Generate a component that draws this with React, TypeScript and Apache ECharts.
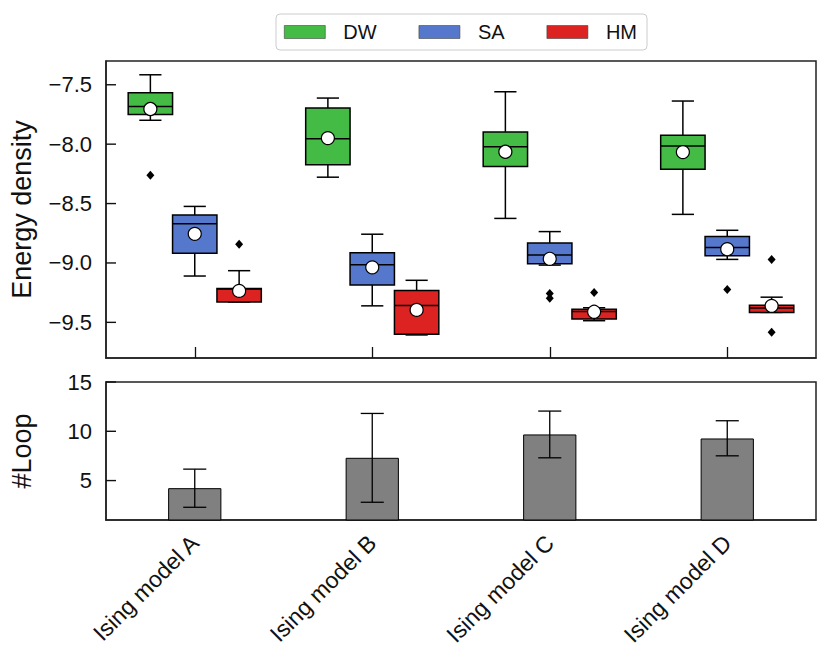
import React, { useEffect, useRef } from "react";
import * as echarts from "echarts";

const categories = ["Ising model A", "Ising model B", "Ising model C", "Ising model D"];
const groupNames = ["DW", "SA", "HM"];
const groupColors = ["#44BB44", "#5577CC", "#DD2222"];
const groupOffsets = [-0.25, 0, 0.25];

// [min, Q1, median, Q3, max] per category
const dwBox = [
  [-7.799, -7.751, -7.684, -7.567, -7.416],
  [-8.278, -8.173, -7.955, -7.696, -7.612],
  [-8.625, -8.189, -8.022, -7.897, -7.559],
  [-8.591, -8.211, -8.016, -7.924, -7.637],
];
const saBox = [
  [-9.11, -8.918, -8.669, -8.596, -8.524],
  [-9.361, -9.185, -9.015, -8.914, -8.758],
  [-9.018, -9.006, -8.934, -8.831, -8.736],
  [-8.97, -8.94, -8.87, -8.778, -8.725],
];
const hmBox = [
  [-9.328, -9.328, -9.22, -9.216, -9.065],
  [-9.606, -9.6, -9.358, -9.232, -9.146],
  [-9.486, -9.472, -9.408, -9.389, -9.377],
  [-9.416, -9.416, -9.38, -9.355, -9.288],
];

const dwMean = [-7.704, -7.949, -8.064, -8.067];
const saMean = [-8.755, -9.037, -8.965, -8.884];
const hmMean = [-9.235, -9.395, -9.411, -9.361];

// [category index, value]
const dwOutliers = [[0, -8.262]];
const saOutliers = [[2, -9.257], [2, -9.297], [3, -9.224]];
const hmOutliers = [[0, -8.842], [2, -9.249], [3, -8.97], [3, -9.584]];

const loopMean = [4.23, 7.31, 9.68, 9.27];
const loopLow = [2.29, 2.8, 7.31, 7.51];
const loopHigh = [6.16, 11.81, 12.05, 11.07];

const energyTicks = [-9.5, -9.0, -8.5, -8.0, -7.5];
const loopTicks = [5, 10, 15];

const FONT = "'Liberation Sans', Arial, Helvetica, sans-serif";

const boxSets = [dwBox, saBox, hmBox];
const meanSets = [dwMean, saMean, hmMean];
const outlierSets = [dwOutliers, saOutliers, hmOutliers];

function boxRenderer(offset: number, color: string) {
  return (params: any, api: any) => {
    const cx = api.value(0) + offset;
    const w = api.size([0.25, 0])[0];
    const cap = w / 4;
    const pMin = api.coord([cx, api.value(1)]);
    const pQ1 = api.coord([cx, api.value(2)]);
    const pMed = api.coord([cx, api.value(3)]);
    const pQ3 = api.coord([cx, api.value(4)]);
    const pMax = api.coord([cx, api.value(5)]);
    const x = pMin[0];
    const ls = { stroke: "#000", lineWidth: 1.5 };
    return {
      type: "group",
      children: [
        { type: "line", shape: { x1: x, y1: pQ3[1], x2: x, y2: pMax[1] }, style: ls },
        { type: "line", shape: { x1: x - cap, y1: pMax[1], x2: x + cap, y2: pMax[1] }, style: ls },
        { type: "line", shape: { x1: x, y1: pQ1[1], x2: x, y2: pMin[1] }, style: ls },
        { type: "line", shape: { x1: x - cap, y1: pMin[1], x2: x + cap, y2: pMin[1] }, style: ls },
        {
          type: "rect",
          shape: { x: x - w / 2, y: pQ3[1], width: w, height: pQ1[1] - pQ3[1] },
          style: { fill: color, stroke: "#000", lineWidth: 1.5 },
        },
        { type: "line", shape: { x1: x - w / 2, y1: pMed[1], x2: x + w / 2, y2: pMed[1] }, style: ls },
      ],
    };
  };
}

function errorRenderer(params: any, api: any) {
  const idx = api.value(0);
  const lo = api.coord([idx, api.value(1)]);
  const hi = api.coord([idx, api.value(2)]);
  const cap = api.size([1, 0])[0] * 0.065;
  const x = lo[0];
  const ls = { stroke: "#000", lineWidth: 1.3 };
  return {
    type: "group",
    children: [
      { type: "line", shape: { x1: x, y1: lo[1], x2: x, y2: hi[1] }, style: ls },
      { type: "line", shape: { x1: x - cap, y1: lo[1], x2: x + cap, y2: lo[1] }, style: ls },
      { type: "line", shape: { x1: x - cap, y1: hi[1], x2: x + cap, y2: hi[1] }, style: ls },
    ],
  };
}

// inward tick marks on the left edge of a grid, drawn as thin filled rects
function yTickRenderer(params: any, api: any) {
  const left = params.coordSys.x;
  const p = api.coord([api.value(0), api.value(1)]);
  return {
    type: "rect",
    shape: { x: left, y: p[1] - 0.7, width: 10, height: 1.4 },
    style: { fill: "#111" },
    z2: 100,
  };
}

const fmtEnergy = (v: number) => v.toFixed(1).replace("-", "\u2212");

export default function App() {
  const ref = useRef<HTMLDivElement>(null);
  useEffect(() => {
    if (!ref.current) return;
    const chart = echarts.init(ref.current, undefined, { renderer: "svg" });

    const series: any[] = [];
    groupNames.forEach((name, g) => {
      series.push({
        name,
        type: "custom",
        xAxisIndex: 1,
        yAxisIndex: 0,
        itemStyle: { color: groupColors[g] },
        renderItem: boxRenderer(groupOffsets[g], groupColors[g]),
        encode: { x: 0, y: [1, 2, 3, 4, 5] },
        data: boxSets[g].map((b, i) => [i, ...b]),
        z: 2,
      });
      series.push({
        name: name + " mean",
        type: "scatter",
        xAxisIndex: 1,
        yAxisIndex: 0,
        symbol: "circle",
        symbolSize: 13,
        itemStyle: { color: "#fff", borderColor: "#000", borderWidth: 1.2, opacity: 1 },
        data: meanSets[g].map((m, i) => [i + groupOffsets[g], m]),
        z: 4,
      });
      series.push({
        name: name + " outliers",
        type: "scatter",
        xAxisIndex: 1,
        yAxisIndex: 0,
        symbol: "diamond",
        symbolSize: [8, 9],
        itemStyle: { color: "#000", opacity: 1 },
        data: outlierSets[g].map((o) => [o[0] + groupOffsets[g], o[1]]),
        z: 4,
      });
    });

    series.push({
      name: "energy ticks",
      type: "custom",
      xAxisIndex: 1,
      yAxisIndex: 0,
      coordinateSystem: "cartesian2d",
      renderItem: yTickRenderer,
      encode: { x: 0, y: 1 },
      data: energyTicks.map((t) => [1.5, t]),
      clip: false,
      z: 10,
    });

    series.push({
      name: "#Loop",
      type: "bar",
      xAxisIndex: 2,
      yAxisIndex: 1,
      barWidth: "30%",
      clip: true,
      itemStyle: { color: "#808080", borderColor: "#000", borderWidth: 1 },
      data: loopMean,
      z: 2,
    });
    series.push({
      name: "#Loop err",
      type: "custom",
      xAxisIndex: 2,
      yAxisIndex: 1,
      renderItem: errorRenderer,
      encode: { x: 0, y: [1, 2] },
      data: loopLow.map((lo, i) => [i, lo, loopHigh[i]]),
      z: 3,
    });
    series.push({
      name: "loop ticks",
      type: "custom",
      xAxisIndex: 2,
      yAxisIndex: 1,
      coordinateSystem: "cartesian2d",
      renderItem: yTickRenderer,
      encode: { x: 0, y: 1 },
      data: loopTicks.map((t) => [1, t]),
      clip: false,
      z: 10,
    });

    const tickLabel = { color: "#111", fontSize: 22, fontFamily: FONT };
    const axLine = { show: true, onZero: false, lineStyle: { color: "#222", width: 1.5 } };
    const option: any = {
      animation: false,
      backgroundColor: "#fff",
      textStyle: { fontFamily: FONT },
      legend: {
        data: groupNames.map((n, g) => ({
          name: n,
          icon: "rect",
          itemStyle: { color: groupColors[g], borderColor: "#444", borderWidth: 0.6 },
        })),
        selectedMode: false,
        left: 276,
        top: 14,
        itemWidth: 41,
        itemHeight: 13,
        itemGap: 42,
        padding: [8, 10, 8, 8],
        borderColor: "#cccccc",
        borderWidth: 1,
        borderRadius: 4,
        textStyle: { fontSize: 20, color: "#111", fontFamily: FONT, padding: [0, 0, 0, 13] },
      },
      grid: [
        { left: 105, top: 61, width: 711, height: 297, show: true, borderColor: "#222", borderWidth: 1.5 },
        { left: 105, top: 382, width: 711, height: 138, show: true, borderColor: "#222", borderWidth: 1.5 },
      ],
      xAxis: [
        {
          type: "category",
          gridIndex: 0,
          data: categories,
          boundaryGap: true,
          axisLine: axLine,
          axisTick: { show: true, inside: true, alignWithLabel: true, length: 11, lineStyle: { color: "#111", width: 1.3 } },
          axisLabel: { show: false },
          splitLine: { show: false },
        },
        {
          type: "value",
          gridIndex: 0,
          min: -0.5,
          max: 3.5,
          show: false,
          axisLine: { show: false, onZero: false },
          splitLine: { show: false },
        },
        {
          type: "category",
          gridIndex: 1,
          data: categories,
          boundaryGap: true,
          axisLine: axLine,
          axisTick: { show: false },
          axisLabel: { ...tickLabel, fontSize: 23, rotate: 45, margin: 19, interval: 0 },
          splitLine: { show: false },
        },
      ],
      yAxis: [
        {
          type: "value",
          gridIndex: 0,
          min: -9.8,
          max: -7.3,
          name: "Energy density",
          nameLocation: "middle",
          nameGap: 71,
          nameTextStyle: { fontSize: 27, color: "#111", fontFamily: FONT },
          axisLine: axLine,
          axisTick: { show: false },
          axisLabel: { ...tickLabel, margin: 14, customValues: energyTicks, formatter: fmtEnergy },
          splitLine: { show: false },
        },
        {
          type: "value",
          gridIndex: 1,
          min: 1,
          max: 15,
          name: "#Loop",
          nameLocation: "middle",
          nameGap: 71,
          nameTextStyle: { fontSize: 27, color: "#111", fontFamily: FONT },
          axisLine: axLine,
          axisTick: { show: false },
          axisLabel: { ...tickLabel, margin: 14, customValues: loopTicks },
          splitLine: { show: false },
        },
      ],
      series,
    };
    chart.setOption(option);
    return () => chart.dispose();
  }, []);
  return (
    <div
      ref={ref}
      style={{ position: "fixed", left: 0, top: 0, width: 830, height: 664, background: "#fff" }}
    />
  );
}
